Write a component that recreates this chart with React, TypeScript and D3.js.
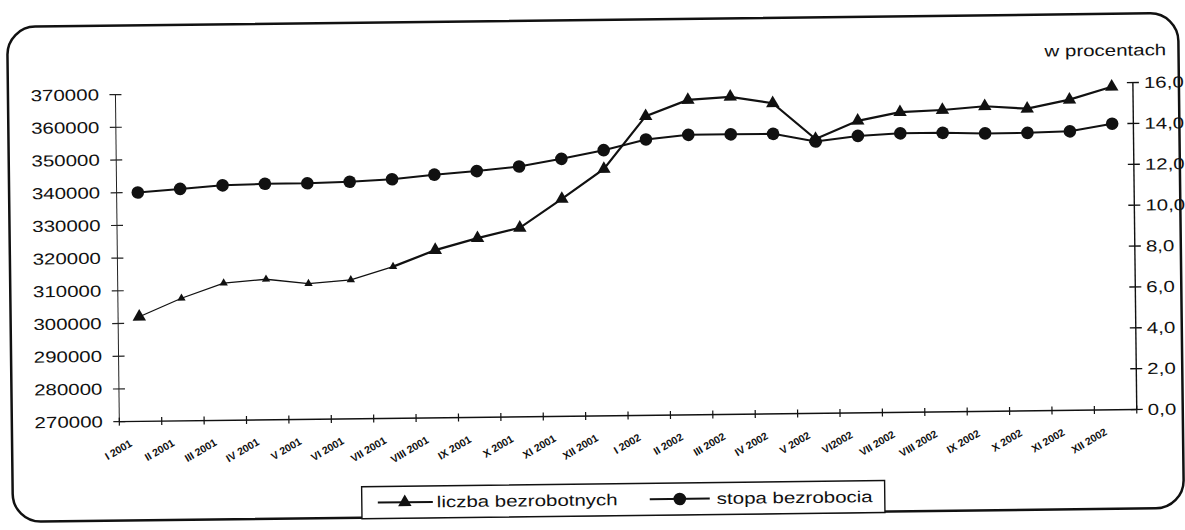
import * as d3 from "d3";
import React, { useEffect, useRef } from "react";

// months on the x axis
const months = [
  "I 2001", "II 2001", "III 2001", "IV 2001", "V 2001", "VI 2001",
  "VII 2001", "VIII 2001", "IX 2001", "X 2001", "XI 2001", "XII 2001",
  "I 2002", "II 2002", "III 2002", "IV 2002", "V 2002", "VI2002",
  "VII 2002", "VIII 2002", "IX 2002", "X 2002", "XI 2002", "XII 2002",
];

// liczba bezrobotnych (left axis)
const liczbaBezrobotnych = [
  302000, 307500, 312000, 313000, 311500, 312500,
  316400, 321300, 324800, 327800, 336500, 345500,
  361500, 366300, 367100, 365000, 353900, 359300,
  361800, 362300, 363300, 362400, 365000, 368800,
];

// stopa bezrobocia w procentach (right axis)
const stopaBezrobocia = [
  11.2, 11.35, 11.5, 11.55, 11.55, 11.6,
  11.7, 11.9, 12.05, 12.25, 12.6, 13.0,
  13.5, 13.7, 13.7, 13.7, 13.3, 13.55,
  13.65, 13.65, 13.6, 13.6, 13.65, 14.0,
];

const leftTicks = [270000, 280000, 290000, 300000, 310000, 320000, 330000, 340000, 350000, 360000, 370000];
const rightTicks = [0, 2, 4, 6, 8, 10, 12, 14, 16];

const FONT = "'Liberation Sans', Arial, sans-serif";

const App: React.FC = () => {
  const ref = useRef<SVGSVGElement>(null);

  useEffect(() => {
    const width = 1185;
    const height = 530;
    const margin = { top: 89, right: 50, bottom: 114, left: 117.5 };

    const svg = d3.select(ref.current);
    svg.selectAll("*").remove();

    // the scanned page is slightly rotated
    const g = svg.append("g").attr("transform", "rotate(-0.68,592,265)");

    // outer rounded frame
    g.append("rect")
      .attr("x", 10)
      .attr("y", 20)
      .attr("width", 1171)
      .attr("height", 495)
      .attr("rx", 28)
      .attr("fill", "none")
      .attr("stroke", "#111")
      .attr("stroke-width", 2.5);

    const x = d3.scaleBand<string>()
      .domain(months)
      .range([margin.left, width - margin.right])
      .padding(0);
    const cx = (i: number) => x(months[i])! + x.bandwidth() / 2;

    const yLeft = d3.scaleLinear()
      .domain([270000, 370000])
      .range([height - margin.bottom, margin.top]);

    const yRight = d3.scaleLinear()
      .domain([0, 16])
      .range([height - margin.bottom, margin.top]);

    const y0 = height - margin.bottom;
    const xRight = width - margin.right;

    // left axis
    g.append("line")
      .attr("x1", margin.left).attr("x2", margin.left)
      .attr("y1", margin.top).attr("y2", y0)
      .attr("stroke", "#222").attr("stroke-width", 1);

    leftTicks.forEach((t) => {
      g.append("line")
        .attr("x1", margin.left - 6).attr("x2", margin.left + 6)
        .attr("y1", yLeft(t)).attr("y2", yLeft(t))
        .attr("stroke", "#222").attr("stroke-width", 1.2);
      g.append("g")
        .attr("transform", `translate(101,${yLeft(t) + 5.5}) scale(1.28,1)`)
        .append("text")
        .attr("text-anchor", "end")
        .style("font-family", FONT)
        .style("font-size", "16px")
        .attr("fill", "#111")
        .text(String(t));
    });

    // right axis
    g.append("line")
      .attr("x1", xRight).attr("x2", xRight)
      .attr("y1", margin.top).attr("y2", y0)
      .attr("stroke", "#111").attr("stroke-width", 1.4);

    rightTicks.forEach((t) => {
      g.append("line")
        .attr("x1", xRight - 6).attr("x2", xRight + 6)
        .attr("y1", yRight(t)).attr("y2", yRight(t))
        .attr("stroke", "#111").attr("stroke-width", 1.3);
      g.append("g")
        .attr("transform", `translate(1146,${yRight(t) + 5.5}) scale(1.28,1)`)
        .append("text")
        .attr("text-anchor", "start")
        .style("font-family", FONT)
        .style("font-size", "16px")
        .attr("fill", "#111")
        .text(t.toFixed(1).replace(".", ","));
    });

    // unit label
    g.append("g")
      .attr("transform", "translate(1047,62) scale(1.28,1)")
      .append("text")
      .style("font-family", FONT)
      .style("font-size", "16px")
      .attr("fill", "#111")
      .text("w procentach");

    // x axis
    g.append("line")
      .attr("x1", margin.left).attr("x2", xRight)
      .attr("y1", y0).attr("y2", y0)
      .attr("stroke", "#111").attr("stroke-width", 1.4);

    d3.range(months.length + 1).forEach((i) => {
      const tx = margin.left + i * x.bandwidth();
      g.append("line")
        .attr("x1", tx).attr("x2", tx)
        .attr("y1", y0 - 4).attr("y2", y0 + 4)
        .attr("stroke", "#111").attr("stroke-width", 1.2);
    });

    months.forEach((m, i) => {
      g.append("g")
        .attr("transform", `translate(${cx(i) - 8},${y0 + 24}) rotate(-30)`)
        .append("text")
        .attr("text-anchor", "end")
        .style("font-family", FONT)
        .style("font-size", "10.5px")
        .style("font-weight", "bold")
        .attr("fill", "#111")
        .text(m);
    });

    // stopa bezrobocia line + circles
    const lineRight = d3.line<number>()
      .x((_, i) => cx(i))
      .y((d) => yRight(d));

    g.append("path")
      .datum(stopaBezrobocia)
      .attr("d", lineRight)
      .attr("fill", "none")
      .attr("stroke", "#111")
      .attr("stroke-width", 2);

    g.selectAll(".dot")
      .data(stopaBezrobocia)
      .enter()
      .append("circle")
      .attr("class", "dot")
      .attr("cx", (_, i) => cx(i))
      .attr("cy", (d) => yRight(d))
      .attr("r", 6.3)
      .attr("fill", "#111");

    // liczba bezrobotnych line + triangles (thin at the start, as printed)
    const split = 6;
    const lineThin = d3.line<number>()
      .x((_, i) => cx(i))
      .y((d) => yLeft(d));
    const lineThick = d3.line<number>()
      .x((_, i) => cx(i + split))
      .y((d) => yLeft(d));

    g.append("path")
      .datum(liczbaBezrobotnych.slice(0, split + 1))
      .attr("d", lineThin)
      .attr("fill", "none")
      .attr("stroke", "#111")
      .attr("stroke-width", 1.3);

    g.append("path")
      .datum(liczbaBezrobotnych.slice(split))
      .attr("d", lineThick)
      .attr("fill", "none")
      .attr("stroke", "#111")
      .attr("stroke-width", 2.2);

    const triBig = d3.symbol().type(d3.symbolTriangle).size(78);
    const triSmall = d3.symbol().type(d3.symbolTriangle).size(30);

    g.selectAll(".tri")
      .data(liczbaBezrobotnych)
      .enter()
      .append("path")
      .attr("class", "tri")
      .attr("d", (_, i) => (i >= 1 && i <= 6 ? triSmall() : triBig())!)
      .attr("transform", (d, i) => `translate(${cx(i)},${yLeft(d)})`)
      .attr("fill", "#111");

    // legend
    const ly = 500;
    const legend = g.append("g");
    legend.append("rect")
      .attr("x", 359)
      .attr("y", 484)
      .attr("width", 523)
      .attr("height", 32)
      .attr("fill", "#fff")
      .attr("stroke", "#111")
      .attr("stroke-width", 1.4);

    legend.append("line")
      .attr("x1", 375).attr("x2", 430)
      .attr("y1", ly).attr("y2", ly)
      .attr("stroke", "#111").attr("stroke-width", 2);
    legend.append("path")
      .attr("d", triBig()!)
      .attr("transform", `translate(402,${ly})`)
      .attr("fill", "#111");
    legend.append("g")
      .attr("transform", `translate(434,${ly + 5.5}) scale(1.28,1)`)
      .append("text")
      .style("font-family", FONT)
      .style("font-size", "16px")
      .attr("fill", "#111")
      .text("liczba bezrobotnych");

    legend.append("line")
      .attr("x1", 647).attr("x2", 707)
      .attr("y1", ly).attr("y2", ly)
      .attr("stroke", "#111").attr("stroke-width", 2);
    legend.append("circle")
      .attr("cx", 677)
      .attr("cy", ly)
      .attr("r", 6.3)
      .attr("fill", "#111");
    legend.append("g")
      .attr("transform", `translate(714,${ly + 5.5}) scale(1.28,1)`)
      .append("text")
      .style("font-family", FONT)
      .style("font-size", "16px")
      .attr("fill", "#111")
      .text("stopa bezrobocia");
  }, []);

  return (
    <svg
      ref={ref}
      width={1185}
      height={530}
      style={{ position: "absolute", left: 0, top: 0, background: "#fff" }}
    ></svg>
  );
};

export default App;
